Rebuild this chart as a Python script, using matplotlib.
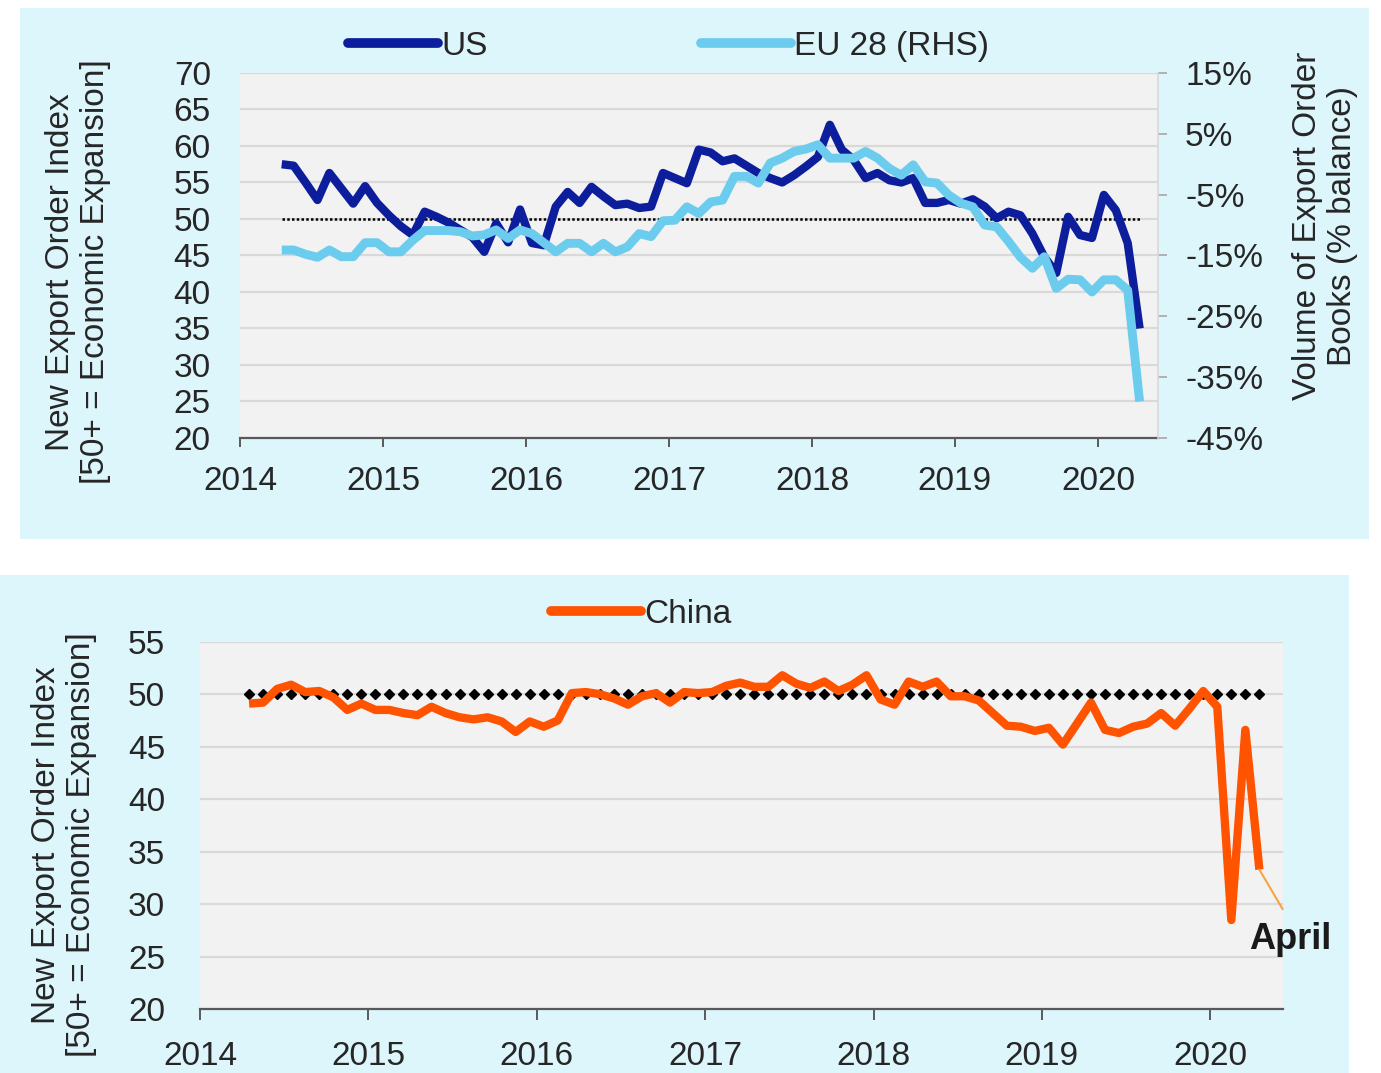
import numpy as np
import matplotlib
matplotlib.use("Agg")
import matplotlib.pyplot as plt
from matplotlib.patches import Rectangle
from matplotlib.lines import Line2D

plt.rcParams['font.family'] = ['Liberation Sans', 'DejaVu Sans']

# ---------------- data (monthly, Apr 2014 - Apr 2020) ----------------
start_year = 2014
start_month = 4
n_months = 73

us_index = [57.5, 57.3, 55.0, 52.6, 56.3, 54.2, 52.1, 54.5, 52.2, 50.5,
            49.0, 47.8, 51.0, 50.3, 49.5, 48.5, 47.5, 45.5, 49.4, 46.8,
            51.3, 46.7, 46.4, 51.7, 53.7, 52.2, 54.4, 53.1, 51.9, 52.1,
            51.5, 51.7, 56.3, 55.6, 54.9, 59.5, 59.1, 57.9, 58.3, 57.3,
            56.3, 55.6, 55.0, 56.0, 57.2, 58.5, 62.9, 59.5, 58.1, 55.6,
            56.3, 55.3, 55.0, 55.6, 52.2, 52.2, 52.6, 52.1, 52.7, 51.7,
            50.1, 51.0, 50.5, 48.0, 44.8, 42.6, 50.3, 47.8, 47.4, 53.3,
            51.2, 46.7, 35.0]

eu28_balance = [-14.1, -14.1, -14.8, -15.3, -14.1, -15.2, -15.2, -12.9, -12.9, -14.4,
                -14.4, -12.5, -10.9, -10.9, -10.9, -11.1, -11.8, -11.6, -10.8, -12.2,
                -10.8, -11.4, -12.9, -14.4, -13.0, -13.0, -14.4, -13.0, -14.4, -13.6,
                -11.4, -11.9, -9.3, -9.2, -7.0, -8.1, -6.2, -5.9, -2.0, -2.0,
                -3.1, 0.2, 1.0, 2.1, 2.5, 3.2, 1.0, 1.0, 1.0, 2.1,
                1.0, -0.7, -1.8, -0.1, -2.9, -3.1, -5.1, -6.4, -7.0, -10.0,
                -10.3, -12.7, -15.3, -17.1, -15.2, -20.4, -18.9, -19.0, -21.0, -19.0,
                -19.0, -20.7, -39.0]

china_index = [49.1, 49.2, 50.5, 50.9, 50.2, 50.3, 49.7, 48.5, 49.1, 48.5,
               48.5, 48.2, 48.0, 48.8, 48.2, 47.8, 47.6, 47.8, 47.4, 46.4,
               47.4, 46.9, 47.5, 50.1, 50.2, 50.0, 49.6, 49.0, 49.8, 50.1,
               49.2, 50.2, 50.1, 50.2, 50.8, 51.1, 50.7, 50.7, 51.8, 51.0,
               50.6, 51.2, 50.3, 50.9, 51.8, 49.5, 49.0, 51.2, 50.7, 51.2,
               49.8, 49.8, 49.4, 48.2, 47.0, 46.9, 46.5, 46.8, 45.2, 47.2,
               49.2, 46.6, 46.3, 46.9, 47.2, 48.2, 47.0, 48.6, 50.3, 48.8,
               28.5, 46.6, 33.3]

expansion_level = 50
year_ticks = [2014, 2015, 2016, 2017, 2018, 2019, 2020]
left_ticks_top = [20, 25, 30, 35, 40, 45, 50, 55, 60, 65, 70]
right_ticks_top = [-45, -35, -25, -15, -5, 5, 15]
left_ticks_bottom = [20, 25, 30, 35, 40, 45, 50, 55]

# month positions in decimal years (mid-month)
x = start_year + (np.arange(n_months) + start_month - 1 + 0.5) / 12.0

# ---------------- styling ----------------
US_C = '#0D1E9C'
EU_C = '#6CCCEE'
CN_C = '#FF5300'
PANEL = '#DDF6FC'
PLOT_BG = '#F2F2F2'
GRID = '#D9D9D9'
TXT = '#262626'
FS = 24

fig = plt.figure(figsize=(13.81, 10.73), dpi=100, facecolor='white')
fig.add_artist(Rectangle((0.0145, 0.4977), 0.9768, 0.4949, transform=fig.transFigure,
                         facecolor=PANEL, edgecolor='none', zorder=-10))
fig.add_artist(Rectangle((0.0, 0.0), 0.9768, 0.4641, transform=fig.transFigure,
                         facecolor=PANEL, edgecolor='none', zorder=-10))

# ---------------- top chart ----------------
ax1 = fig.add_axes([0.1738, 0.5918, 0.6647, 0.3402])
ax1.set_facecolor(PLOT_BG)
ax1.set_xlim(2014, 2020.42)
ax1.set_ylim(20, 70)
ax1.set_yticks(left_ticks_top)
ax1.set_xticks(year_ticks)
ax1.grid(axis='y', color=GRID, lw=1.6)
ax1.set_axisbelow(True)
for s in ['top', 'left', 'right']:
    ax1.spines[s].set_visible(False)
ax1.spines['bottom'].set_color('#595959')
ax1.spines['bottom'].set_linewidth(1.6)
ax1.tick_params(axis='y', length=0, pad=21, labelsize=FS, labelcolor=TXT)
ax1.tick_params(axis='x', length=6.5, width=1.4, color='#595959', pad=14,
                labelsize=FS, labelcolor=TXT)
ax1.plot(x, [expansion_level] * n_months, color='black', lw=1.8,
         linestyle=(0, (1.0, 0.9)), zorder=2)
ax1.plot(x, us_index, color=US_C, lw=6.0, solid_joinstyle='round',
         solid_capstyle='butt', zorder=3)

ax1b = ax1.twinx()
ax1b.set_ylim(-45, 15)
ax1b.set_yticks(right_ticks_top)
ax1b.set_yticklabels([f'{v}%' for v in right_ticks_top])
for s in ['top', 'left', 'bottom']:
    ax1b.spines[s].set_visible(False)
ax1b.spines['right'].set_color(GRID)
ax1b.spines['right'].set_linewidth(1.2)
ax1b.tick_params(axis='y', length=6.5, width=1.2, color='#A6A6A6', pad=13,
                 labelsize=FS, labelcolor=TXT)
ax1b.plot(x, eu28_balance, color=EU_C, lw=6.4, solid_joinstyle='round',
          solid_capstyle='butt', zorder=3)

fig.text(0.0565, 0.7465, 'New Export Order Index\n[50+ = Economic Expansion]',
         rotation=90, ha='center', va='center', fontsize=FS, color=TXT,
         linespacing=1.15, multialignment='center')
fig.text(0.9594, 0.7894, 'Volume of Export Order\nBooks (% balance)',
         rotation=90, ha='center', va='center', fontsize=FS, color=TXT,
         linespacing=1.15, multialignment='center')

top_handles = [Line2D([], [], color=US_C, lw=7, solid_capstyle='round'),
               Line2D([], [], color=EU_C, lw=7, solid_capstyle='round')]
fig.legend(top_handles, ['US', 'EU 28 (RHS)'], loc='center',
           bbox_to_anchor=(0.484, 0.957), ncol=2, frameon=False, fontsize=FS,
           handlelength=2.7, handletextpad=0.1, columnspacing=6.4,
           labelcolor=TXT, borderpad=0)

# ---------------- bottom chart ----------------
ax2 = fig.add_axes([0.1448, 0.0594, 0.7840, 0.3426])
ax2.set_facecolor(PLOT_BG)
ax2.set_xlim(2014, 2020.43)
ax2.set_ylim(20, 55)
ax2.set_yticks(left_ticks_bottom)
ax2.set_xticks(year_ticks)
ax2.grid(axis='y', color=GRID, lw=1.6)
ax2.set_axisbelow(True)
for s in ['top', 'left', 'right']:
    ax2.spines[s].set_visible(False)
ax2.spines['bottom'].set_color('#595959')
ax2.spines['bottom'].set_linewidth(1.6)
ax2.tick_params(axis='y', length=0, pad=25, labelsize=FS, labelcolor=TXT)
ax2.tick_params(axis='x', length=8, width=1.4, color='#595959', pad=15,
                labelsize=FS, labelcolor=TXT)
ax2.plot(x, [expansion_level] * n_months, linestyle='none', marker='D',
         ms=4.6, color='black', zorder=2)
ax2.plot(x, china_index, color=CN_C, lw=6.0, solid_joinstyle='round',
         solid_capstyle='butt', zorder=3)

ax2.annotate('April', xy=(x[-1], china_index[-1]), xytext=(22, -50),
             textcoords='offset points', ha='center', va='center',
             fontsize=26, fontweight='bold', color='#1A1A1A',
             annotation_clip=False,
             arrowprops=dict(arrowstyle='-', color='#F5A540', lw=1.5,
                             relpos=(0.5, 1.0), shrinkA=8, shrinkB=0))

fig.text(0.0463, 0.2125, 'New Export Order Index\n[50+ = Economic Expansion]',
         rotation=90, ha='center', va='center', fontsize=FS, color=TXT,
         linespacing=1.15, multialignment='center')

bottom_handles = [Line2D([], [], color=CN_C, lw=7, solid_capstyle='round')]
fig.legend(bottom_handles, ['China'], loc='center',
           bbox_to_anchor=(0.4645, 0.4276), ncol=1, frameon=False, fontsize=FS,
           handlelength=2.7, handletextpad=0.1, labelcolor=TXT, borderpad=0)

fig.savefig('out.png', dpi=100, facecolor='white')
